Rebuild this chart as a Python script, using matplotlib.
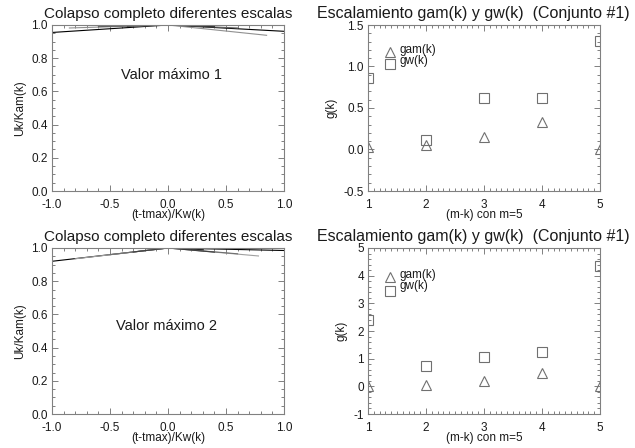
import matplotlib
matplotlib.use("Agg")
import matplotlib.pyplot as plt
from matplotlib.ticker import MultipleLocator, FormatStrFormatter

plt.rcParams['font.family'] = ['Liberation Sans', 'DejaVu Sans']

# ---- data ----
k_vals = [1, 2, 3, 4, 5]
gam_1 = [0.03, 0.06, 0.15, 0.33, 0.0]
gw_1 = [0.86, 0.11, 0.62, 0.62, 1.31]
gam_2 = [0.0, 0.05, 0.2, 0.5, 0.0]
gw_2 = [2.4, 0.72, 1.05, 1.25, 4.35]

# collapse curves (x, y, colour)
curves_1 = [
    ([-1.0, 0.0, 1.0], [0.955, 1.0, 0.962], '#000000'),
    ([-0.85, 0.0, 0.85], [0.982, 1.0, 0.938], '#909090'),
    ([-0.6, 0.0, 0.6], [0.99, 1.0, 0.982], '#606060'),
    ([-0.35, 0.0, 0.4], [0.994, 1.0, 0.99], '#303030'),
]
curves_2 = [
    ([-1.0, 0.0, 1.0], [0.92, 1.0, 0.985], '#000000'),
    ([-0.8, 0.0, 0.78], [0.935, 1.0, 0.952], '#a0a0a0'),
    ([-0.5, 0.0, 0.6], [0.96, 1.0, 0.965], '#707070'),
    ([-0.3, 0.0, 0.4], [0.976, 1.0, 0.975], '#404040'),
    ([0.0, 0.3], [1.0, 0.99], '#202020'),
]

AXC = '#808080'
TXC = '#1a1a1a'
MKC = '#707070'

W, H = 635, 448
fig = plt.figure(figsize=(W/100, H/100), dpi=100)

def ax_at(l, t, r, b):
    return fig.add_axes([l/W, (H-b)/H, (r-l)/W, (b-t)/H])

def style(ax, xmaj, xmin, ymaj, ymin, fmtx, fmty):
    for s in ax.spines.values():
        s.set_color(AXC)
        s.set_linewidth(0.8)
    ax.xaxis.set_major_locator(MultipleLocator(xmaj))
    ax.xaxis.set_minor_locator(MultipleLocator(xmin))
    ax.yaxis.set_major_locator(MultipleLocator(ymaj))
    ax.yaxis.set_minor_locator(MultipleLocator(ymin))
    ax.xaxis.set_major_formatter(FormatStrFormatter(fmtx))
    ax.yaxis.set_major_formatter(FormatStrFormatter(fmty))
    ax.tick_params(which='both', direction='in', top=True, right=True,
                   colors=AXC, labelcolor=TXC, labelsize=8.5, width=0.7)
    ax.tick_params(which='major', length=4.5)
    ax.tick_params(axis='x', which='major', pad=5.5)
    ax.tick_params(axis='y', which='major', pad=3)
    ax.tick_params(which='minor', length=2.2)

def collapse(ax, curves, label):
    for x, y, c in curves:
        ax.plot(x, y, color=c, lw=0.8)
    ax.set_xlim(-1, 1)
    ax.set_ylim(0, 1)
    style(ax, 0.5, 0.1, 0.2, 0.05, '%.1f', '%.1f')
    ax.set_title('Colapso completo diferentes escalas', fontsize=11, color=TXC, pad=5)
    ax.set_xlabel('(t-tmax)/Kw(k)', fontsize=8.5, color=TXC, labelpad=-1)
    ax.set_ylabel('Uk/Kam(k)', fontsize=8.5, color=TXC, labelpad=4)
    ax.text(label[0], label[1], label[2], fontsize=10.5, color=TXC, ha='center', va='center')

def scaling(ax, gam, gw, ylim, ymaj, ymin, fmty, leg):
    ax.plot(k_vals, gam, ls='none', marker='^', ms=7.5, mfc='none', mec=MKC, mew=0.8)
    ax.plot(k_vals, gw, ls='none', marker='s', ms=7.5, mfc='none', mec=MKC, mew=0.8)
    ax.set_xlim(1, 5)
    ax.set_ylim(*ylim)
    style(ax, 1, 0.1, ymaj, ymin, '%d', fmty)
    ax.set_title('Escalamiento gam(k) y gw(k)  (Conjunto #1)', fontsize=11.5, color=TXC,
                 pad=5, x=0.455)
    ax.set_xlabel('(m-k) con m=5', fontsize=8.5, color=TXC, labelpad=-1)
    ax.set_ylabel('g(k)', fontsize=8.5, color=TXC, labelpad=4)
    ax.plot([1.38], [leg[0]], ls='none', marker='^', ms=7.5, mfc='none', mec=MKC, mew=0.8)
    ax.plot([1.38], [leg[1]], ls='none', marker='s', ms=7.5, mfc='none', mec=MKC, mew=0.8)
    ax.text(1.55, leg[2], 'gam(k)', fontsize=8.5, color=TXC, va='center')
    ax.text(1.55, leg[3], 'gw(k)', fontsize=8.5, color=TXC, va='center')

ax1 = ax_at(52, 25, 284, 191)
collapse(ax1, curves_1, (0.03, 0.70, 'Valor máximo 1'))
ax2 = ax_at(368, 25, 600, 191)
scaling(ax2, gam_1, gw_1, (-0.5, 1.5), 0.5, 0.1, '%.1f', (1.17, 1.03, 1.2, 1.07))
ax3 = ax_at(52, 248, 284, 414)
collapse(ax3, curves_2, (-0.01, 0.53, 'Valor máximo 2'))
ax4 = ax_at(368, 248, 600, 414)
scaling(ax4, gam_2, gw_2, (-1, 5), 1, 0.2, '%d', (3.95, 3.46, 4.02, 3.64))

fig.savefig('out.png', dpi=100)
